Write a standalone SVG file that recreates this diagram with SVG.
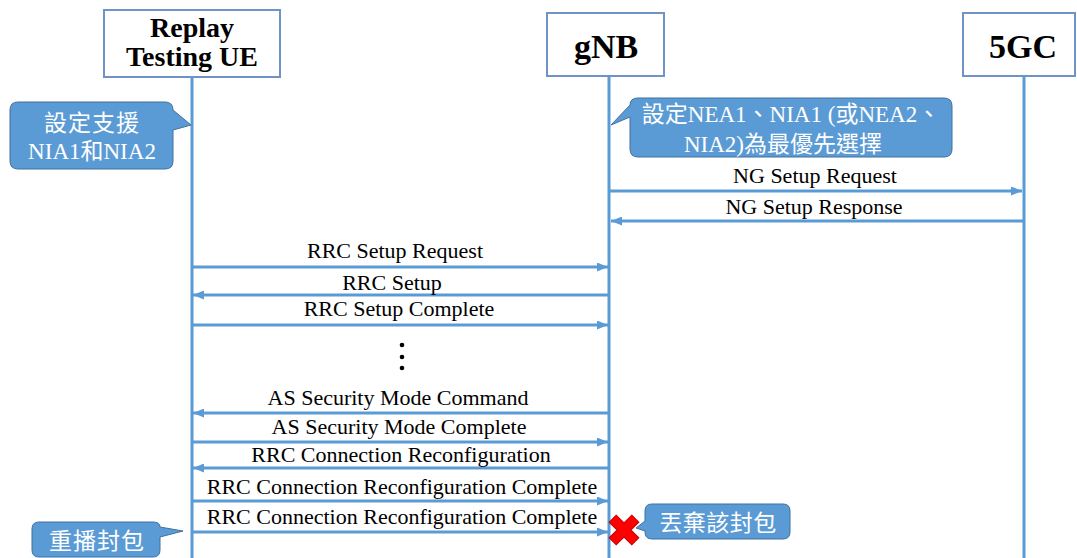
<svg xmlns="http://www.w3.org/2000/svg" width="1077" height="558" viewBox="0 0 1077 558">
<style>
.box{fill:#fff;stroke:#6F93C4;stroke-width:2}
.hd{font-family:"Liberation Serif","Times New Roman",serif;font-weight:bold;fill:#000;text-anchor:middle}
.life{stroke:#5B9BD5;stroke-width:3;fill:none}
.msg{stroke:#5B9BD5;stroke-width:3;fill:none;marker-end:url(#ah)}
.lbl{font-family:"Liberation Serif","Times New Roman",serif;font-size:22px;fill:#000;text-anchor:middle}
.co{fill:#5B9BD5;stroke:#41719C;stroke-width:1}
.ct{font-family:"Noto Sans CJK TC","Liberation Serif",serif;font-size:23px;fill:#fff;text-anchor:middle}
.lt{font-family:"Liberation Serif","Times New Roman",serif}
</style>
<defs>
<marker id="ah" markerUnits="userSpaceOnUse" markerWidth="11" markerHeight="9" refX="11" refY="4.5" orient="auto">
<path d="M0,0 L11,4.5 L0,9 Z" fill="#5B9BD5"/>
</marker>
</defs>

<g id="ue">
<rect class="box" x="104" y="10" width="176" height="67"/>
<text class="hd" font-size="28" x="192" y="37">Replay</text>
<text class="hd" font-size="28" x="192" y="66">Testing UE</text>
<line class="life" x1="192" y1="78" x2="192" y2="558"/>
</g>
<g id="gnb">
<rect class="box" x="547" y="13" width="117" height="63"/>
<text class="hd" font-size="34" x="606" y="58">gNB</text>
<line class="life" x1="609" y1="77" x2="609" y2="558"/>
</g>
<g id="core">
<rect class="box" x="963" y="13" width="112" height="63"/>
<text class="hd" font-size="34" x="1023" y="58">5GC</text>
<line class="life" x1="1024" y1="77" x2="1024" y2="558"/>
</g>

<g id="note-ue">
<path class="co" d="M18,102 H165 Q173,102 173,110 L191,125 L173,130 V161 Q173,169 165,169 H18 Q10,169 10,161 V110 Q10,102 18,102 Z"/>
<text class="ct" x="92" y="131" letter-spacing="1">設定支援</text>
<text class="ct" x="92" y="159"><tspan class="lt">NIA1</tspan>和<tspan class="lt">NIA2</tspan></text>
</g>
<g id="note-gnb">
<path class="co" d="M638,98 H944 Q952,98 952,106 V149 Q952,157 944,157 H638 Q630,157 630,149 V117 L611,125 L630,105 Q630,98 638,98 Z"/>
<text class="ct" x="791" y="122">設定<tspan class="lt">NEA1</tspan>、<tspan class="lt">NIA1 (</tspan>或<tspan class="lt">NEA2</tspan>、</text>
<text class="ct" x="783" y="152"><tspan class="lt">NIA2)</tspan>為最優先選擇</text>
</g>
<g id="note-replay">
<path class="co" d="M39,522 H153 Q160,522 160,527 L183,531 L160,537 V550 Q160,557 153,557 H39 Q32,557 32,550 V529 Q32,522 39,522 Z"/>
<text class="ct" x="97" y="549" letter-spacing="1">重播封包</text>
</g>
<g id="note-drop">
<path class="co" d="M652,504 H783 Q790,504 790,511 V532 Q790,539 783,539 H652 Q645,539 645,532 V531 L636,528 L645,521 V511 Q645,504 652,504 Z"/>
<text class="ct" x="718" y="531" letter-spacing="0.5">丟棄該封包</text>
</g>
<g id="drop-x">
<path d="M-5,-16 H5 V-5 H16 V5 H5 V16 H-5 V5 H-16 V-5 H-5 Z" transform="translate(624,530) rotate(45)" fill="#FF0000" stroke="#C00000" stroke-width="1"/>
</g>

<g id="connectors">
<line class="msg" x1="609" y1="191" x2="1022" y2="191"/>
<line class="msg" x1="1024" y1="221" x2="611" y2="221"/>
<line class="msg" x1="192" y1="267" x2="608" y2="267"/>
<line class="msg" x1="609" y1="295" x2="193" y2="295"/>
<line class="msg" x1="192" y1="325" x2="608" y2="325"/>
<line class="msg" x1="609" y1="413" x2="193" y2="413"/>
<line class="msg" x1="192" y1="442" x2="608" y2="442"/>
<line class="msg" x1="609" y1="468" x2="193" y2="468"/>
<line class="msg" x1="192" y1="501" x2="608" y2="501"/>
<line class="msg" x1="192" y1="532" x2="608" y2="532"/>
</g>

<g id="labels">
<text class="lbl" x="815" y="183">NG Setup Request</text>
<text class="lbl" x="814" y="214">NG Setup Response</text>
<text class="lbl" x="395" y="258">RRC Setup Request</text>
<text class="lbl" x="392" y="290">RRC Setup</text>
<text class="lbl" x="399" y="316">RRC Setup Complete</text>
<text class="lbl" x="398" y="405">AS Security Mode Command</text>
<text class="lbl" x="399" y="434">AS Security Mode Complete</text>
<text class="lbl" x="401" y="462">RRC Connection Reconfiguration</text>
<text class="lbl" x="402" y="494">RRC Connection Reconfiguration Complete</text>
<text class="lbl" x="402" y="524">RRC Connection Reconfiguration Complete</text>
</g>
<g id="ellipsis" fill="#000">
<circle cx="402" cy="345" r="2.3"/>
<circle cx="402" cy="357" r="2.3"/>
<circle cx="402" cy="368" r="2.3"/>
</g>
</svg>
